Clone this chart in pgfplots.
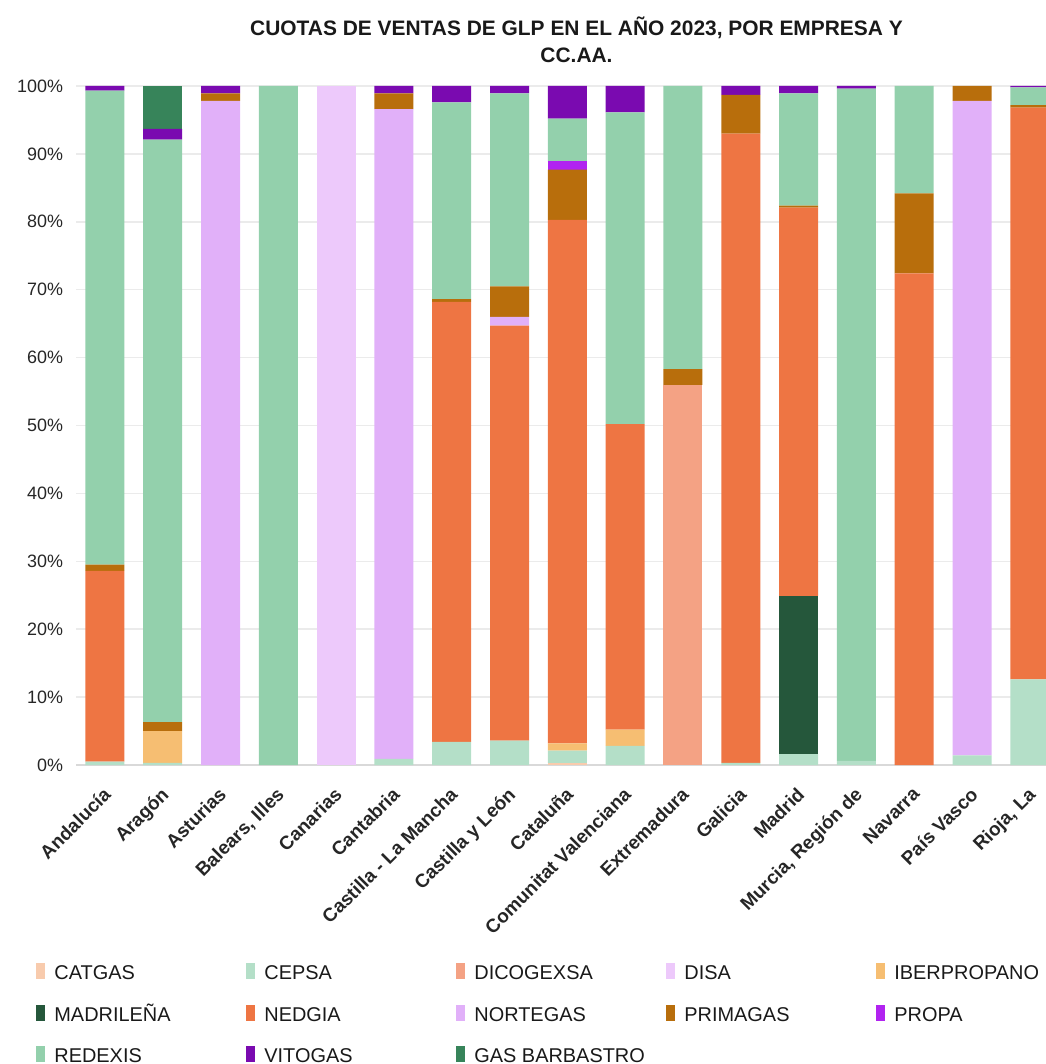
\documentclass[border=0pt]{standalone}
\usepackage{pgfplots}
\pgfplotsset{compat=1.18}
\usepackage{pgfplotstable}
\usepackage{fontspec}
\setmainfont{Liberation Sans}

\definecolor{cCatgas}{HTML}{F8CBAD}
\definecolor{cCepsa}{HTML}{B4DFC8}
\definecolor{cDicog}{HTML}{F4A284}
\definecolor{cDisa}{HTML}{EDC9FB}
\definecolor{cIber}{HTML}{F6BE72}
\definecolor{cMadr}{HTML}{25573B}
\definecolor{cNedgia}{HTML}{EE7543}
\definecolor{cNort}{HTML}{E1B0F9}
\definecolor{cPrim}{HTML}{B86E0C}
\definecolor{cPropa}{HTML}{B123F0}
\definecolor{cRedex}{HTML}{93D0AC}
\definecolor{cVito}{HTML}{7A0AB0}
\definecolor{cBarb}{HTML}{37845A}

% cuotas (%) por CC.AA., en el orden del eje x
\pgfplotstableread{
x  catgas cepsa dicog disa iber madr nedgia nort prim propa redex vito barb
0  0      0.5   0     0    0    0    28.1   0    0.9  0     69.8  0.7  0
1  0      0.3   0     0    4.7  0    0      0    1.3  0     85.8  1.6  6.3
2  0      0     0     0    0    0    0      97.8 1.1  0     0     1.1  0
3  0      0     0     0    0    0    0      0    0    0     100   0    0
4  0      0     0     100  0    0    0      0    0    0     0     0    0
5  0      0.9   0     0    0    0    0      95.7 2.3  0     0     1.1  0
6  0      3.4   0     0    0    0    64.8   0    0.4  0     29.0  2.4  0
7  0      3.6   0     0    0    0    61.1   1.3  4.5  0     28.4  1.1  0
8  0.3    1.8   0     0    1.1  0    77.1   0    7.4  1.2   6.3   4.8  0
9  0      2.8   0     0    2.4  0    45.0   0    0    0     45.9  3.9  0
10 0      0     56.0  0    0    0    0      0    2.3  0     41.7  0    0
11 0      0.3   0     0    0    0    92.7   0    5.7  0     0     1.3  0
12 0      1.6   0     0    0    23.3 57.2   0    0.3  0     16.5  1.1  0
13 0      0.6   0     0    0    0    0      0    0    0     99.0  0.4  0
14 0      0     0     0    0    0    72.4   0    11.8 0     15.8  0    0
15 0      1.4   0     0    0    0    0      96.4 2.2  0     0     0    0
16 0      12.6  0     0    0    0    84.2   0    0.4  0     2.6   0.2  0
}\cuotas

\newcommand\leg[1]{\hspace{4.5bp}\makebox[96bp][l]{\rule{0pt}{10bp}#1}}

\begin{document}
\begin{tikzpicture}
\begin{axis}[
    scale only axis,
    width=485bp, height=339.5bp,
    ybar stacked,
    bar width=19.5bp,
    xmin=-0.5, xmax=16.28,
    ymin=0, ymax=100,
    axis lines*=left,
    x axis line style={draw=black!15, line width=1bp},
    y axis line style={draw=none},
    major tick length=0pt,
    ymajorgrids,
    grid style={draw=black!8, line width=0.8bp},
    ytick={0,10,...,100},
    yticklabels={0\%,10\%,20\%,30\%,40\%,50\%,60\%,70\%,80\%,90\%,100\%},
    yticklabel style={font=\fontsize{9}{10}\selectfont, text=black!85, xshift=-3bp},
    xtick={0,...,16},
    xticklabels={Andalucía,Aragón,Asturias,{Balears, Illes},Canarias,Cantabria,
        Castilla - La Mancha,Castilla y León,Cataluña,Comunitat Valenciana,
        Extremadura,Galicia,Madrid,{Murcia, Región de},Navarra,País Vasco,{Rioja, La}},
    xticklabel style={font=\bfseries\fontsize{9.5}{11}\selectfont, text=black!85,
        rotate=45, anchor=north east, xshift=-5bp, yshift=-3bp},
    title={CUOTAS DE VENTAS DE GLP EN EL AÑO 2023, POR EMPRESA Y\\CC.AA.},
    title style={font=\bfseries\fontsize{10.5}{13.5}\selectfont, text=black!90,
        align=center, at={(0.516,1)}, anchor=south, inner sep=0pt, yshift=5.5bp},
    every axis plot post/.append style={draw=none,
        legend image code/.code={\fill[##1] (0bp,-4bp) rectangle (4.5bp,4bp);}},
    legend columns=5,
    legend style={draw=none, fill=none, at={(0,0)}, anchor=north west,
        xshift=-23bp, yshift=-95.2bp, column sep=0pt, row sep=9.2bp,
        font=\fontsize{10}{12}\selectfont, text=black!90,
        cells={anchor=west}, nodes={inner sep=0pt}},
]
\addplot[fill=cCatgas] table[x=x, y=catgas]{\cuotas};
\addplot[fill=cCepsa]  table[x=x, y=cepsa]{\cuotas};
\addplot[fill=cDicog]  table[x=x, y=dicog]{\cuotas};
\addplot[fill=cDisa]   table[x=x, y=disa]{\cuotas};
\addplot[fill=cIber]   table[x=x, y=iber]{\cuotas};
\addplot[fill=cMadr]   table[x=x, y=madr]{\cuotas};
\addplot[fill=cNedgia] table[x=x, y=nedgia]{\cuotas};
\addplot[fill=cNort]   table[x=x, y=nort]{\cuotas};
\addplot[fill=cPrim]   table[x=x, y=prim]{\cuotas};
\addplot[fill=cPropa]  table[x=x, y=propa]{\cuotas};
\addplot[fill=cRedex]  table[x=x, y=redex]{\cuotas};
\addplot[fill=cVito]   table[x=x, y=vito]{\cuotas};
\addplot[fill=cBarb]   table[x=x, y=barb]{\cuotas};
\legend{\leg{CATGAS},\leg{CEPSA},\leg{DICOGEXSA},\leg{DISA},\leg{IBERPROPANO},
    \leg{MADRILEÑA},\leg{NEDGIA},\leg{NORTEGAS},\leg{PRIMAGAS},\leg{PROPA},
    \leg{REDEXIS},\leg{VITOGAS},\leg{GAS BARBASTRO}}
\end{axis}
\pgfresetboundingbox
\path[use as bounding box] (-38bp,-149.5bp) rectangle (485bp,382.5bp);
\end{tikzpicture}
\end{document}
